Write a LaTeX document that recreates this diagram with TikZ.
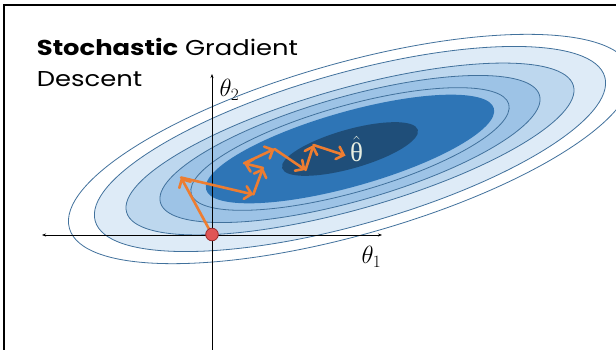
\documentclass[tikz,border=0pt]{standalone}
\usepackage{fontspec}
\setmainfont{Poppins}
\newfontfamily\grk{Liberation Serif}
\usetikzlibrary{arrows.meta}
\definecolor{cA}{HTML}{DEEBF7}
\definecolor{cB}{HTML}{BDD7EE}
\definecolor{cC}{HTML}{9DC3E6}
\definecolor{cD}{HTML}{2E75B6}
\definecolor{cE}{HTML}{1F4E79}
\definecolor{cline}{HTML}{41719C}
\definecolor{corange}{HTML}{ED7D31}
\definecolor{cred}{HTML}{E05555}
\definecolor{credline}{HTML}{9A2B2B}
\definecolor{chat}{HTML}{E8EFE2}
\tikzset{
  contour/.style={draw=cline, line width=0.8pt},
  sgdstep/.style={draw=corange, line width=2.6pt, line cap=round,
    -{Straight Barb[length=6.5pt,width=13pt,line cap=round]}},
  axisline/.style={draw=black, line width=0.8pt},
  lbl/.style={inner sep=0pt, font=\fontsize{24}{28}\selectfont},
  titletext/.style={anchor=base west, inner sep=0pt, font=\fontsize{21.5}{26}\selectfont},
}
\begin{document}
\begin{tikzpicture}[x=1pt,y=-1pt]
\useasboundingbox (0,0) rectangle (616,350);
\fill[white] (0,0) rectangle (616,350);
% contours
\begin{scope}[rotate around={15.8:(350,149)}]
\path[contour, fill=white] (350,149) ellipse [x radius=291.6pt, y radius=86pt];
\path[contour, fill=cA] (350,149) ellipse [x radius=264.8pt, y radius=75.8pt];
\path[contour, fill=cB] (350,149) ellipse [x radius=232.2pt, y radius=60.5pt];
\path[contour, fill=cC] (350,149) ellipse [x radius=197pt, y radius=52.3pt];
\path[contour, fill=cC] (350,149) ellipse [x radius=165pt, y radius=43.4pt];
\fill[cD] (350,149) ellipse [x radius=149.5pt, y radius=37.4pt];
\fill[cE] (350,149) ellipse [x radius=70.5pt, y radius=19.5pt];
\end{scope}
% frame
\draw[line width=2.3pt] (4.2,352) -- (4.2,5) -- (618,5);
% axes
\coordinate (xl) at (42,235);
\coordinate (xr) at (382,235);
\coordinate (yb) at (212,352);
\coordinate (yt) at (212,74);
\draw[axisline, {Stealth[length=4pt,width=3pt]}-{Stealth[length=4pt,width=3pt]}] (xl) -- (xr);
\draw[axisline, -{Stealth[length=4pt,width=3pt]}] (yb) -- (yt);
\node[lbl] (t1) at (371.5,257) {$\theta_1$};
\node[lbl] (t2) at (229.5,90) {$\theta_2$};
% title
\node[titletext] (title1) at (36.7,55.5) {\scalebox{1.2}[1]{\textbf{Stochastic} Gradient}};
\node[titletext] (title2) at (36.7,87) {\scalebox{1.2}[1]{Descent}};
% SGD path
\coordinate (p0) at (212,234.5);
\coordinate (p1) at (181,177.5);
\coordinate (p2) at (253.3,194.5);
\coordinate (p3) at (263,168);
\coordinate (p4) at (244,163.3);
\coordinate (p5) at (274.5,149);
\coordinate (p6) at (305.5,170);
\coordinate (p7) at (313.5,145);
\coordinate (p8) at (345.5,155.5);
\draw[sgdstep] (p0) -- (p1);
\draw[sgdstep] (p1) -- (p2);
\draw[sgdstep] (p2) -- (p3);
\draw[sgdstep] (p3) -- (p4);
\draw[sgdstep] (p4) -- (p5);
\draw[sgdstep] (p5) -- (p6);
\draw[sgdstep] (p6) -- (p7);
\draw[sgdstep] (p7) -- (p8);
\node[text=chat, inner sep=0pt, font=\fontsize{27}{30}\selectfont] (thetahat) at (356.5,149) {$\hat{\hbox{\grk θ}}$};
\node[circle, fill=cred, draw=credline, line width=0.8pt, minimum size=12.6pt, inner sep=0pt] (start) at (p0) {};
\end{tikzpicture}
\end{document}
